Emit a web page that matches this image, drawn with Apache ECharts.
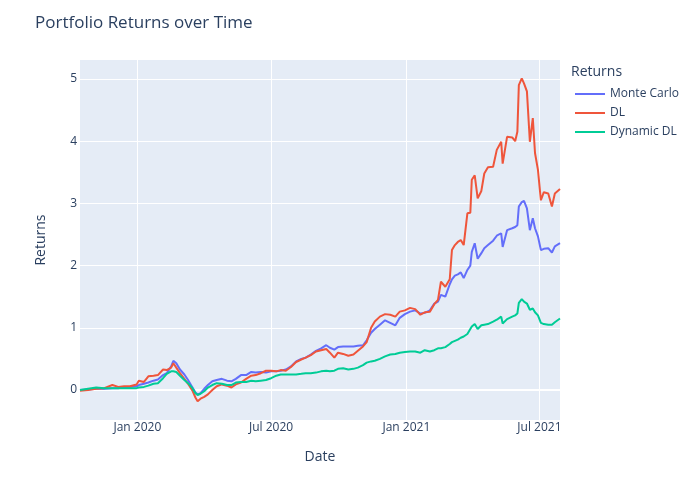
<!DOCTYPE html>
<html>
<head>
<meta charset="utf-8">
<script src="https://cdn.jsdelivr.net/npm/echarts@6/dist/echarts.min.js"></script>
<style>
    html, body { margin: 0; padding: 0; background: #fff; }
    #main { width: 700px; height: 500px; }
</style>
</head>
<body>
<div id="main"></div>
<script>
// dates, one per sample
var dates = [
    '2019-10-15','2019-10-26','2019-11-06','2019-11-17','2019-11-28','2019-12-06','2019-12-14','2019-12-22','2019-12-31','2020-01-03',
    '2020-01-10','2020-01-16','2020-01-23','2020-01-29','2020-02-05','2020-02-10','2020-02-16','2020-02-19','2020-02-23','2020-02-28',
    '2020-03-05','2020-03-10','2020-03-16','2020-03-20','2020-03-23','2020-03-27','2020-04-01','2020-04-06','2020-04-12','2020-04-18',
    '2020-04-25','2020-05-02','2020-05-08','2020-05-14','2020-05-21','2020-05-28','2020-06-04','2020-06-10','2020-06-17','2020-06-24',
    '2020-07-01','2020-07-08','2020-07-14','2020-07-21','2020-07-28','2020-08-04','2020-08-11','2020-08-17','2020-08-24','2020-08-31',
    '2020-09-07','2020-09-14','2020-09-19','2020-09-25','2020-09-30','2020-10-07','2020-10-14','2020-10-21','2020-10-27','2020-11-03',
    '2020-11-08','2020-11-14','2020-11-19','2020-11-26','2020-12-03','2020-12-10','2020-12-17','2020-12-23','2020-12-30','2021-01-06',
    '2021-01-13','2021-01-20','2021-01-26','2021-02-02','2021-02-08','2021-02-13','2021-02-17','2021-02-23','2021-03-01','2021-03-04',
    '2021-03-08','2021-03-12','2021-03-16','2021-03-20','2021-03-25','2021-03-29','2021-03-31','2021-04-04','2021-04-08','2021-04-13',
    '2021-04-17','2021-04-22','2021-04-29','2021-05-04','2021-05-10','2021-05-12','2021-05-18','2021-05-25','2021-05-29','2021-06-01',
    '2021-06-03','2021-06-07','2021-06-10','2021-06-14','2021-06-18','2021-06-22','2021-06-25','2021-06-29','2021-07-03','2021-07-07',
    '2021-07-13','2021-07-18','2021-07-22','2021-07-29'
];

var monte_carlo = [
    0.00,0.01,0.02,0.02,0.03,0.03,0.05,0.05,0.06,0.08,
    0.10,0.12,0.15,0.17,0.24,0.27,0.38,0.47,0.43,0.33,
    0.25,0.16,0.04,-0.04,-0.07,-0.05,0.02,0.08,0.14,0.16,
    0.18,0.15,0.14,0.18,0.24,0.24,0.29,0.28,0.29,0.28,
    0.30,0.30,0.31,0.33,0.38,0.46,0.50,0.52,0.57,0.63,
    0.67,0.72,0.68,0.65,0.69,0.70,0.70,0.70,0.71,0.72,
    0.80,0.92,0.98,1.05,1.12,1.08,1.04,1.16,1.22,1.26,
    1.28,1.23,1.24,1.28,1.39,1.42,1.53,1.50,1.70,1.78,
    1.84,1.86,1.89,1.80,1.93,2.00,2.22,2.36,2.11,2.20,
    2.28,2.33,2.40,2.48,2.52,2.30,2.57,2.60,2.62,2.65,
    2.95,3.02,3.04,2.92,2.57,2.76,2.60,2.47,2.25,2.27,
    2.28,2.21,2.31,2.36
];

var dl = [
    -0.01,0.00,0.02,0.03,0.08,0.05,0.06,0.06,0.09,0.15,
    0.13,0.22,0.23,0.24,0.33,0.32,0.36,0.43,0.36,0.27,
    0.18,0.10,-0.01,-0.12,-0.18,-0.14,-0.11,-0.07,0.00,0.06,
    0.09,0.07,0.04,0.09,0.12,0.18,0.23,0.24,0.27,0.31,
    0.31,0.30,0.32,0.31,0.37,0.45,0.49,0.52,0.56,0.62,
    0.64,0.66,0.60,0.52,0.60,0.58,0.55,0.57,0.63,0.70,
    0.77,1.00,1.10,1.18,1.22,1.21,1.18,1.26,1.28,1.32,
    1.30,1.21,1.25,1.26,1.38,1.45,1.74,1.66,1.78,2.25,
    2.33,2.38,2.41,2.33,2.84,2.85,3.38,3.45,3.08,3.20,
    3.48,3.58,3.59,3.86,3.99,3.64,4.07,4.06,4.00,4.15,
    4.90,5.01,4.93,4.80,3.99,4.37,3.81,3.54,3.05,3.18,
    3.16,2.95,3.16,3.23
];

var dynamic_dl = [
    0.00,0.02,0.04,0.03,0.03,0.03,0.03,0.03,0.03,0.04,
    0.05,0.07,0.10,0.11,0.19,0.26,0.30,0.30,0.29,0.23,
    0.16,0.11,0.03,-0.05,-0.08,-0.06,-0.02,0.04,0.08,0.11,
    0.10,0.08,0.08,0.12,0.13,0.13,0.15,0.14,0.15,0.16,
    0.19,0.23,0.25,0.25,0.25,0.25,0.26,0.27,0.27,0.28,
    0.30,0.31,0.30,0.31,0.34,0.35,0.33,0.34,0.36,0.40,
    0.44,0.46,0.47,0.50,0.54,0.57,0.58,0.60,0.61,0.62,
    0.62,0.60,0.64,0.62,0.64,0.67,0.67,0.69,0.74,0.77,
    0.79,0.81,0.84,0.86,0.90,0.98,1.02,1.06,0.98,1.04,
    1.05,1.06,1.10,1.13,1.18,1.07,1.14,1.18,1.20,1.23,
    1.40,1.46,1.42,1.39,1.29,1.31,1.25,1.20,1.08,1.06,
    1.05,1.05,1.09,1.15
];

var series_names = ['Monte Carlo', 'DL', 'Dynamic DL'];
var x_ticks = ['2020-01-01', '2020-07-01', '2021-01-01', '2021-07-01'];
var y_ticks = [0, 1, 2, 3, 4, 5];
var month_names = ['Jan','Feb','Mar','Apr','May','Jun','Jul','Aug','Sep','Oct','Nov','Dec'];

var CHART = {
    font: '"Open Sans", verdana, arial, sans-serif',
    text_color: '#2a3f5f',
    colors: ['#636efa', '#EF553B', '#00cc96'],
    init: function(){
        var _this = this;
        var myChart = echarts.init(document.getElementById('main'), null, {renderer: 'canvas'});
        myChart.setOption(_this.build_option());
    },
    to_time: function(s){
        return +echarts.time.parse(s);
    },
    pairs: function(values){
        var _this = this;
        return dates.map(function(d, i){ return [_this.to_time(d), values[i]]; });
    },
    line_series: function(name, values, color){
        return {
            name: name,
            type: 'line',
            data: this.pairs(values),
            symbol: 'none',
            lineStyle: {width: 2, color: color},
            itemStyle: {color: color},
            z: 3
        };
    },
    build_option: function(){
        var _this = this;
        // x is a plain value axis of timestamps so the half-year ticks can be pinned
        var tick_times = x_ticks.map(function(s){ return _this.to_time(s); });
        var series = [
            _this.line_series(series_names[0], monte_carlo, _this.colors[0]),
            _this.line_series(series_names[1], dl, _this.colors[1]),
            _this.line_series(series_names[2], dynamic_dl, _this.colors[2]),
            {
                // thicker white zero line under the data, like plotly's zeroline
                name: 'zero',
                type: 'line',
                data: [],
                z: 1,
                silent: true,
                markLine: {
                    z: 1,
                    silent: true,
                    symbol: 'none',
                    animation: false,
                    label: {show: false},
                    lineStyle: {color: '#ffffff', width: 2, type: 'solid'},
                    data: [{yAxis: 0}]
                }
            }
        ];

        return {
            animation: false,
            textStyle: {fontFamily: _this.font, color: _this.text_color},
            title: [
                {
                    text: 'Portfolio Returns over Time',
                    left: 35,
                    top: 15,
                    padding: 0,
                    textStyle: {fontFamily: _this.font, fontSize: 17, fontWeight: 'normal', color: _this.text_color}
                },
                {
                    text: 'Returns',
                    left: 571,
                    top: 65,
                    padding: 0,
                    textStyle: {fontFamily: _this.font, fontSize: 14, fontWeight: 'normal', color: _this.text_color}
                }
            ],
            legend: {
                data: series_names,
                orient: 'vertical',
                left: 574,
                top: 86,
                padding: 0,
                itemWidth: 30,
                itemHeight: 14,
                itemGap: 3,
                itemStyle: {opacity: 0},
                lineStyle: {width: 2},
                textStyle: {fontFamily: _this.font, fontSize: 12, color: _this.text_color, lineHeight: 14, padding: [1, 0, 1, 0]}
            },
            grid: {
                left: 80,
                right: 140,
                top: 60,
                bottom: 80,
                show: true,
                backgroundColor: '#E5ECF6',
                borderWidth: 0,
                containLabel: false
            },
            xAxis: {
                type: 'value',
                min: _this.to_time(dates[0]),
                max: _this.to_time(dates[dates.length - 1]),
                name: 'Date',
                nameLocation: 'middle',
                nameGap: 30,
                nameTextStyle: {fontFamily: _this.font, fontSize: 14, color: _this.text_color},
                axisLine: {show: false},
                axisTick: {show: false, customValues: tick_times},
                axisLabel: {
                    customValues: tick_times,
                    margin: 2,
                    fontFamily: _this.font,
                    fontSize: 12,
                    color: _this.text_color,
                    formatter: function(v){
                        var d = new Date(v);
                        return month_names[d.getMonth()] + ' ' + d.getFullYear();
                    }
                },
                splitLine: {show: true, lineStyle: {color: '#ffffff', width: 1}}
            },
            yAxis: {
                type: 'value',
                min: -0.482,
                max: 5.305,
                name: 'Returns',
                nameLocation: 'middle',
                nameGap: 32,
                nameTextStyle: {fontFamily: _this.font, fontSize: 14, color: _this.text_color},
                axisLine: {show: false},
                axisTick: {show: false, customValues: y_ticks},
                axisLabel: {
                    customValues: y_ticks,
                    margin: 3,
                    fontFamily: _this.font,
                    fontSize: 12,
                    color: _this.text_color
                },
                splitLine: {show: true, lineStyle: {color: '#ffffff', width: 1}}
            },
            series: series
        };
    }
};

CHART.init();
</script>
</body>
</html>
